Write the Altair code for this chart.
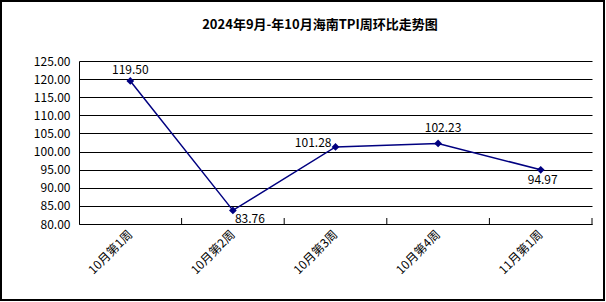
import altair as alt
import pandas as pd

weeks = ["10月第1周", "10月第2周", "10月第3周", "10月第4周", "11月第1周"]
values = [119.50, 83.76, 101.28, 102.23, 94.97]
y_ticks = [80, 85, 90, 95, 100, 105, 110, 115, 120, 125]
title_text = "2024年9月-年10月海南TPI周环比走势图"

# label placement (align, dx, dy) per point
label_layout = [
    ("center", 0, -11),
    ("left", 2, 9),
    ("right", -4, -4),
    ("center", 5, -15),
    ("center", 2, 10),
]

df = pd.DataFrame({"week": weeks, "value": values})

W, H = 513, 163
FONT = "Noto Sans CJK SC"
NAVY = "#000080"

x_axis = alt.Axis(
    title=None,
    labelAngle=-45,
    labelAlign="right",
    labelBaseline="middle",
    labelFont=FONT,
    labelFontSize=12,
    labelColor="black",
    labelPadding=8,
    ticks=False,
    domainColor="black",
    domainWidth=1,
    grid=False,
)
x_scale = alt.Scale(paddingInner=0, paddingOuter=0)
x_enc = alt.X("week:N", sort=weeks, scale=x_scale, axis=x_axis)
y_enc = alt.Y(
    "value:Q",
    scale=alt.Scale(domain=[80, 125], nice=False, zero=False),
    axis=alt.Axis(
        title=None,
        values=y_ticks,
        format=".2f",
        labelFont=FONT,
        labelFontSize=12,
        labelColor="black",
        labelPadding=9,
        labelOverlap=False,
        ticks=False,
        domainColor="black",
        grid=True,
        gridColor="black",
        gridWidth=1,
        gridOpacity=1,
    ),
)

base = alt.Chart(df)

line = base.mark_line(color=NAVY, strokeWidth=1.5).encode(x=x_enc, y=y_enc)
pts = base.mark_point(shape="diamond", filled=True, color=NAVY, size=60, opacity=1).encode(
    x=x_enc, y=y_enc
)

ticks = base.mark_rule(color="black", strokeWidth=1).encode(
    x=alt.X("week:N", sort=weeks, scale=x_scale, axis=x_axis, bandPosition=1),
    y=alt.value(H),
    y2=alt.value(H - 6),
)

label_layers = []
for wk, (al, dx, dy) in zip(weeks, label_layout):
    label_layers.append(
        base.transform_filter(alt.datum.week == wk)
        .mark_text(align=al, baseline="middle", dx=dx, dy=dy, font=FONT, fontSize=12, color="black")
        .encode(x=x_enc, y=y_enc, text=alt.Text("value:Q", format=".2f"))
    )

single = alt.Chart(pd.DataFrame({"t": [title_text]}))

border = single.mark_rect(
    fill=None, stroke="black", strokeWidth=2, clip=False
).encode(
    x=alt.value(-78), x2=alt.value(525), y=alt.value(-60), y2=alt.value(239)
)

title = single.mark_text(
    font=FONT, fontSize=13, fontWeight="bold", color="black", align="center", baseline="middle"
).encode(text="t:N", x=alt.value(241), y=alt.value(-36))

chart = (
    alt.layer(line, ticks, pts, *label_layers, border, title)
    .properties(
        width=W,
        height=H,
        padding={"left": 79, "top": 61, "right": 14, "bottom": 78},
        autosize=alt.AutoSizeParams(type="none"),
        background="white",
    )
    .configure_view(stroke=None)
)

chart.save("out.html", embed_options={"renderer": "svg", "actions": False})
